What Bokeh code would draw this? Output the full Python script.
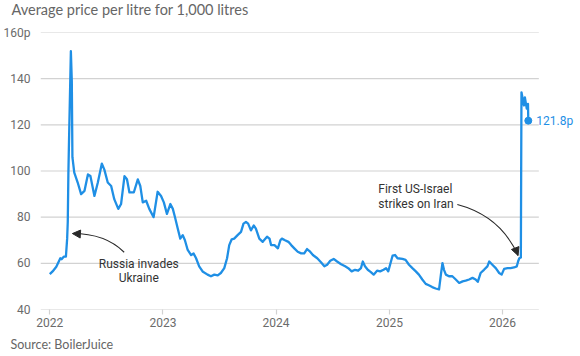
import pandas as pd
from bokeh.plotting import figure
from bokeh.models import Range1d, FixedTicker, Title, Label, Arrow, NormalHead
from bokeh.embed import file_html
from bokeh.resources import INLINE

# ---------------- data ----------------
dates = [
    "2022-01-01", "2022-01-10", "2022-01-22", "2022-02-04", "2022-02-08", "2022-02-15",
    "2022-02-22", "2022-02-26", "2022-02-28", "2022-03-02", "2022-03-04", "2022-03-10",
    "2022-03-13", "2022-03-15", "2022-03-21", "2022-04-01", "2022-04-12", "2022-04-23",
    "2022-05-04", "2022-05-12", "2022-05-25", "2022-06-05", "2022-06-18", "2022-06-26",
    "2022-07-07", "2022-07-18", "2022-07-28", "2022-08-10", "2022-08-19", "2022-08-30",
    "2022-09-07", "2022-09-15", "2022-09-29", "2022-10-12", "2022-10-20", "2022-10-28",
    "2022-11-08", "2022-11-18", "2022-12-02", "2022-12-15", "2022-12-26", "2023-01-04",
    "2023-01-14", "2023-01-25", "2023-02-02", "2023-02-09", "2023-02-18", "2023-02-26",
    "2023-03-06", "2023-03-13", "2023-03-22", "2023-04-02", "2023-04-10", "2023-04-18",
    "2023-04-28", "2023-05-09", "2023-05-25", "2023-06-05", "2023-06-16", "2023-06-27",
    "2023-07-07", "2023-07-18", "2023-07-27", "2023-08-03", "2023-08-11", "2023-08-19",
    "2023-08-30", "2023-09-10", "2023-09-18", "2023-09-26", "2023-10-03", "2023-10-12",
    "2023-10-21", "2023-10-28", "2023-11-08", "2023-11-19", "2023-12-03", "2023-12-11",
    "2023-12-16", "2023-12-27", "2024-01-07", "2024-01-15", "2024-01-20", "2024-01-30",
    "2024-02-10", "2024-02-19", "2024-02-29", "2024-03-11", "2024-03-22", "2024-04-01",
    "2024-04-10", "2024-04-18", "2024-04-29", "2024-05-13", "2024-05-25", "2024-06-05",
    "2024-06-14", "2024-06-24", "2024-07-05", "2024-07-16", "2024-07-29", "2024-08-11",
    "2024-08-21", "2024-09-01", "2024-09-12", "2024-09-22", "2024-10-01", "2024-10-07",
    "2024-10-14", "2024-10-23", "2024-11-02", "2024-11-11", "2024-11-22", "2024-12-02",
    "2024-12-13", "2024-12-21", "2024-12-28", "2025-01-03", "2025-01-11", "2025-01-19",
    "2025-01-27", "2025-02-12", "2025-02-22", "2025-03-05", "2025-03-16", "2025-03-27",
    "2025-04-06", "2025-04-17", "2025-04-28", "2025-05-08", "2025-05-19", "2025-05-30",
    "2025-06-10", "2025-06-16", "2025-06-21", "2025-06-26", "2025-07-02", "2025-07-12",
    "2025-07-23", "2025-08-03", "2025-08-14", "2025-08-25", "2025-09-04", "2025-09-15",
    "2025-09-26", "2025-10-06", "2025-10-13", "2025-10-22", "2025-11-02", "2025-11-13",
    "2025-11-19", "2025-11-29", "2025-12-10", "2025-12-21", "2025-12-29", "2026-01-06",
    "2026-01-17", "2026-01-27", "2026-02-07", "2026-02-16", "2026-02-20", "2026-02-24",
    "2026-03-01", "2026-03-02", "2026-03-03", "2026-03-11", "2026-03-14", "2026-03-20",
    "2026-03-24", "2026-03-25",
]
prices = [
    55.3, 56.5, 58.5, 62.2, 61.8, 62.9,
    62.9, 70.7, 78.0, 99.0, 113.0, 151.9,
    139.0, 106.0, 99.3, 95.0, 90.0, 91.4,
    98.5, 97.8, 89.2, 95.0, 103.2, 100.6,
    95.0, 93.5, 87.8, 83.6, 85.7, 97.8,
    96.4, 90.7, 90.7, 96.4, 93.5, 86.4,
    87.1, 83.6, 80.0, 91.0, 89.2, 86.4,
    81.4, 85.7, 83.6, 80.0, 75.0, 70.7,
    72.2, 70.0, 65.8, 63.6, 64.3, 62.2,
    58.7, 56.5, 55.1, 54.4, 55.1, 54.8,
    55.8, 57.9, 62.2, 67.9, 70.4, 70.7,
    72.2, 73.6, 77.2, 77.9, 77.2, 74.3,
    76.4, 75.0, 70.7, 69.3, 71.5, 70.7,
    67.9, 67.9, 66.5, 70.0, 70.7, 70.0,
    69.3, 67.9, 66.5, 65.0, 64.3, 64.3,
    66.2, 65.3, 63.6, 62.2, 60.5, 58.7,
    59.4, 61.1, 61.9, 60.8, 59.6, 58.7,
    57.9, 56.5, 57.2, 56.8, 57.9, 60.8,
    58.7, 57.2, 56.2, 55.1, 56.8, 56.5,
    57.2, 57.9, 56.5, 59.4, 63.3, 63.6,
    62.2, 61.9, 61.5, 59.4, 57.9, 56.5,
    55.1, 53.0, 51.1, 50.5, 49.7, 49.1,
    48.7, 55.1, 60.1, 57.2, 55.1, 54.4,
    54.4, 53.0, 51.5, 52.2, 52.5, 53.0,
    53.7, 53.0, 52.0, 55.8, 57.2, 58.7,
    60.8, 59.4, 57.9, 55.8, 55.1, 57.6,
    57.9, 57.9, 58.2, 58.7, 60.8, 62.2,
    62.5, 100.0, 134.1, 128.4, 131.9, 127.0,
    129.1, 121.8,
]
year_ticks = ["2022", "2023", "2024", "2025", "2026"]
y_ticks = [40, 60, 80, 100, 120, 140, 160]
grid_span = ["2021-12-02", "2026-04-28"]     # extent of the horizontal gridlines
x_window = ["2021-12-02", "2026-09-03"]      # full plotting window (room for end label)
y_window = [40, 160]

title_text = "Average price per litre for 1,000 litres"
source_text = "Source: BoilerJuice"
note_russia = ["Russia invades", "Ukraine"]
note_iran = ["First US-Israel", "strikes on Iran"]

# annotation anchors (date, value)
russia_text_at = ["2022-10-15", 59.6, 53.7]
russia_curve = [("2022-08-29", 64.8), ("2022-06-29", 72.9), ("2022-03-16", 72.9)]
russia_head = [("2022-03-27", 72.8), ("2022-03-15", 72.9)]
iran_text_at = ["2024-11-26", 92.1, 85.7]
iran_curve = [("2025-08-08", 85.5), ("2025-12-26", 80.5), ("2026-02-20", 63.4)]
iran_head = [("2026-02-10", 66.9), ("2026-02-20", 63.4)]

# ---------------- styles ----------------
BLUE = "#1f8fe5"
GRID = "#d2d2d2"
TICK_TXT = "#6b6b6b"
NOTE_TXT = "#333333"
COND = "Roboto"


def ms(d):
    return pd.Timestamp(d).value / 1e6


xs = [ms(d) for d in dates]

p = figure(
    width=580, height=356,
    x_axis_type="datetime",
    x_range=Range1d(ms(x_window[0]), ms(x_window[1])),
    y_range=Range1d(y_window[0], y_window[1]),
    output_backend="svg", toolbar_location=None,
    title_location=None,
    min_border_left=39, min_border_right=2, min_border_top=31, min_border_bottom=44,
    background_fill_color="white", border_fill_color="white",
)
p.outline_line_color = None

# grid (drawn as segments so it stops before the end label)
p.xgrid.visible = False
p.ygrid.visible = False
grid_x0 = [ms(grid_span[0]) for _ in y_ticks]
grid_x1 = [ms(grid_span[1]) for _ in y_ticks]
p.segment(x0=grid_x0, y0=list(y_ticks), x1=grid_x1, y1=list(y_ticks),
          line_color=GRID, line_width=1.2, level="underlay")

p.yaxis.ticker = FixedTicker(ticks=y_ticks)
p.xaxis.ticker = FixedTicker(ticks=[ms(y + "-01-01") for y in year_ticks])

# y axis
p.yaxis.axis_line_color = None
p.yaxis.major_tick_line_color = None
p.yaxis.minor_tick_line_color = None
p.yaxis.major_label_standoff = 4
p.yaxis.major_label_text_font = COND
p.yaxis.major_label_text_font_size = "12px"
p.yaxis.major_label_text_color = TICK_TXT
p.yaxis.major_label_overrides = {y_ticks[-1]: f"{y_ticks[-1]}p"}

# x axis
p.xaxis.axis_line_color = None
p.xaxis.major_tick_line_color = GRID
p.xaxis.major_tick_line_width = 1.2
p.xaxis.major_tick_in = 0
p.xaxis.major_tick_out = 5
p.xaxis.minor_tick_line_color = None
p.xaxis.major_label_standoff = 3
p.xaxis.major_label_text_font = COND
p.xaxis.major_label_text_font_size = "12px"
p.xaxis.major_label_text_color = TICK_TXT
p.xaxis.major_label_overrides = {ms(y + "-01-01"): y for y in year_ticks}

# title (with a thin spacer panel between it and the frame) and source
spacer = Title(text=" ", text_font_size="1px", standoff=10)
p.add_layout(spacer, "above")
head = Title(text=title_text, align="left", vertical_align="top", offset=-29,
             standoff=0, text_font="Lato", text_font_style="normal",
             text_font_size="14.5px", text_color="#666666")
p.add_layout(head, "above")

src = Title(text=source_text, align="left", offset=-30, text_font="Lato",
            text_font_style="normal", text_font_size="12.5px", text_color="#666666")
p.add_layout(src, "below")

# main line
p.line(xs, prices, line_color=BLUE, line_width=2.3, line_join="round")
p.scatter([xs[-1]], [prices[-1]], size=7, fill_color=BLUE, line_color=BLUE)
p.add_layout(Label(x=xs[-1], y=prices[-1], text=f"{prices[-1]}p", x_offset=8,
                   text_baseline="middle", text_align="left", text_color=BLUE,
                   text_font=COND, text_font_size="12px"))


def note(lines, at, align):
    for txt, yv in zip(lines, at[1:]):
        p.add_layout(Label(x=ms(at[0]), y=yv, text=txt, text_align=align,
                           text_baseline="middle", text_color=NOTE_TXT,
                           text_font=COND, text_font_size="12px"))


def curve(c, head_pts):
    (x0, y0), (cx, cy), (x1, y1) = c
    p.quadratic(x0=[ms(x0)], y0=[y0], cx=[ms(cx)], cy=[cy], x1=[ms(x1)], y1=[y1],
                line_color="#2a2a2a", line_width=1.1)
    (hx0, hy0), (hx1, hy1) = head_pts
    p.add_layout(Arrow(end=NormalHead(size=8, fill_color="#2a2a2a", line_color="#2a2a2a"),
                       x_start=ms(hx0), y_start=hy0, x_end=ms(hx1), y_end=hy1,
                       line_alpha=0))


note(note_russia, russia_text_at, "center")
curve(russia_curve, russia_head)
note(note_iran, iran_text_at, "left")
curve(iran_curve, iran_head)

open("out.html", "w").write(file_html(p, INLINE))
